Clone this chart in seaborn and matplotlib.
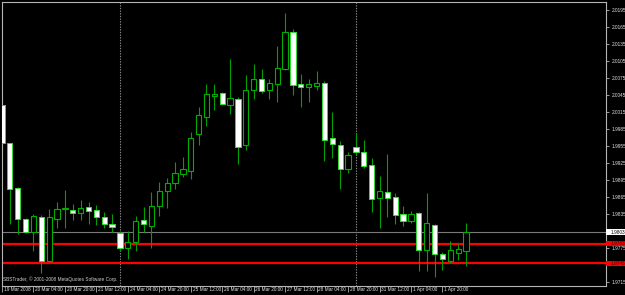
import numpy as np
import matplotlib
matplotlib.use("Agg")
import matplotlib.pyplot as plt
import matplotlib.transforms as mtransforms
from matplotlib.patches import Rectangle
import seaborn as sns

# ---------------- data (4H candles) ----------------
opens = [2.0027, 1.9960, 1.9881, 1.9826, 1.9803, 1.9830, 1.9753, 1.9826, 1.9844, 1.9842,
         1.9836, 1.9847, 1.9842, 1.9830, 1.9818, 1.9801, 1.9775, 1.9786, 1.9824, 1.9814,
         1.9850, 1.9876, 1.9889, 1.9906, 1.9911, 1.9977, 2.0007, 2.0044, 2.0048, 2.0027,
         2.0038, 1.9956, 2.0053, 2.0073, 2.0053, 2.0064, 2.0091, 2.0157, 2.0064, 2.0060,
         2.0061, 2.0067, 1.9969, 1.9957, 1.9914, 1.9954, 1.9944, 1.9921, 1.9863, 1.9873,
         1.9865, 1.9835, 1.9822, 1.9836, 1.9772, 1.9816, 1.9764, 1.9752, 1.9767, 1.9770]
highs = [2.0040, 1.9961, 1.9883, 1.9828, 1.9835, 1.9833, 1.9844, 1.9856, 1.9877, 1.9852,
         1.9860, 1.9856, 1.9851, 1.9839, 1.9835, 1.9805, 1.9805, 1.9832, 1.9848, 1.9874,
         1.9891, 1.9898, 1.9926, 1.9936, 1.9980, 2.0023, 2.0064, 2.0064, 2.0050, 2.0109,
         2.0041, 2.0080, 2.0099, 2.0091, 2.0073, 2.0131, 2.0189, 2.0161, 2.0082, 2.0074,
         2.0088, 2.0070, 2.0015, 1.9964, 1.9945, 1.9978, 1.9966, 1.9933, 1.9902, 1.9941,
         1.9872, 1.9850, 1.9840, 1.9839, 1.9872, 1.9817, 1.9768, 1.9787, 1.9782, 1.9819]
lows = [1.9946, 1.9817, 1.9800, 1.9801, 1.9770, 1.9731, 1.9752, 1.9810, 1.9810, 1.9824,
        1.9824, 1.9817, 1.9816, 1.9810, 1.9803, 1.9770, 1.9755, 1.9770, 1.9804, 1.9775,
        1.9832, 1.9846, 1.9880, 1.9900, 1.9896, 1.9956, 1.9991, 2.0019, 2.0027, 2.0011,
        1.9923, 1.9948, 2.0038, 2.0049, 2.0038, 2.0033, 2.0090, 2.0045, 2.0023, 2.0033,
        2.0054, 1.9929, 1.9933, 1.9879, 1.9907, 1.9939, 1.9916, 1.9839, 1.9811, 1.9830,
        1.9817, 1.9813, 1.9820, 1.9734, 1.9734, 1.9724, 1.9737, 1.9748, 1.9754, 1.9743]
closes = [1.9960, 1.9879, 1.9826, 1.9803, 1.9832, 1.9752, 1.9830, 1.9844, 1.9846, 1.9836,
          1.9845, 1.9840, 1.9829, 1.9817, 1.9812, 1.9775, 1.9786, 1.9823, 1.9817, 1.9850,
          1.9876, 1.9890, 1.9907, 1.9914, 1.9970, 2.0009, 2.0046, 2.0046, 2.0029, 2.0040,
          1.9954, 2.0053, 2.0073, 2.0052, 2.0067, 2.0092, 2.0156, 2.0062, 2.0060, 2.0064,
          2.0067, 1.9966, 1.9959, 1.9914, 1.9940, 1.9944, 1.9920, 1.9861, 1.9876, 1.9864,
          1.9833, 1.9822, 1.9835, 1.9772, 1.9819, 1.9765, 1.9756, 1.9771, 1.9773, 1.9803]

time_labels = ["19 Mar 2008", "20 Mar 04:00", "20 Mar 20:00", "21 Mar 12:00",
               "24 Mar 04:00", "24 Mar 20:00", "25 Mar 12:00", "26 Mar 04:00",
               "26 Mar 20:00", "27 Mar 12:00", "28 Mar 04:00", "28 Mar 20:00",
               "31 Mar 12:00", "1 Apr 04:00", "1 Apr 20:00"]
time_label_bars = [0, 4, 8, 12, 16, 20, 24, 28, 32, 36, 40, 44, 48, 52, 56]
price_ticks = [2.0195, 2.0165, 2.0135, 2.0105, 2.0075, 2.0045, 2.0015, 1.9985, 1.9955,
               1.9925, 1.9895, 1.9865, 1.9835, 1.9805, 1.9775, 1.9745, 1.9715]
week_start_bars = [15, 45]
bid_price = 1.9803
level_prices = [1.9783, 1.9748]
copyright_text = "SBSTrader, \u00a9 2001-2008 MetaQuotes Software Corp."

# ---------------- style ----------------
sns.set_theme(style="dark", rc={"figure.facecolor": "black", "axes.facecolor": "black",
                                "axes.grid": False})
plt.rcParams["font.family"] = ["Liberation Sans", "DejaVu Sans"]

TXT = "#e6e6e6"
FRAME = "#b4b4b4"

fig = plt.figure(figsize=(6.25, 2.95), dpi=100, facecolor="black")

# fit the tiny terminal font: copyright line is ~114 px wide in the reference
probe = fig.text(0, 0, copyright_text, fontsize=4.0)
w = probe.get_window_extent(fig.canvas.get_renderer()).width
probe.remove()
FS = 4.0 * 114.0 / w

ax = fig.add_axes([2 / 625, (295 - 285.5) / 295, 604 / 625, 283.5 / 295])
ax.set_facecolor("black")

o = np.array(opens); h = np.array(highs); l = np.array(lows); c = np.array(closes)
x = np.arange(len(o))
bull = c >= o

# week separators
for b in week_start_bars:
    ax.axvline(b, color="#8a8a8a", lw=0.8, ls=(0, (1.2, 1.2)), zorder=1)

# level lines
ax.axhline(bid_price, color="#7a7a7a", lw=0.8, zorder=1.5)
for lp in level_prices:
    ax.axhline(lp, color="#ff0000", lw=1.6, zorder=1.5)

# wicks
ax.vlines(x, l, h, color="#00a000", lw=0.8, zorder=2)

# bodies
bw = 0.67
body_bottom = np.minimum(o, c)
body_h = np.maximum(np.abs(c - o), 0.00012)
ax.bar(x[bull], body_h[bull], bottom=body_bottom[bull], width=bw,
       facecolor="black", edgecolor="#00b000", linewidth=0.8, zorder=3)
ax.bar(x[~bull], body_h[~bull], bottom=body_bottom[~bull], width=bw,
       facecolor="white", edgecolor="#30e030", linewidth=0.7, zorder=3)

ax.set_xlim(0, 76.8)
ax.set_ylim(1.97089, 2.02091)

for sp in ax.spines.values():
    sp.set_color(FRAME)
    sp.set_linewidth(0.8)

# y axis on the right; labels hidden under the price boxes are left blank
covered = [bid_price] + level_prices
ylabels = ["" if any(abs(p - q) < 0.0006 for q in covered) and p not in (1.9775,) else f"{p:.4f}"
           for p in price_ticks]
ax.yaxis.tick_right()
ax.set_yticks(price_ticks)
ax.set_yticklabels(ylabels)
ax.tick_params(axis="y", which="both", right=True, left=False, direction="out",
               length=2.5, width=0.6, color=FRAME, labelcolor=TXT, labelsize=FS, pad=1.5)

# x axis
ax.set_xticks(time_label_bars)
ax.set_xticklabels(time_labels, ha="left")
ax.tick_params(axis="x", which="both", bottom=True, direction="out", length=4,
               width=0.6, color=FRAME, labelcolor=TXT, labelsize=FS, pad=-3.0)
offset = mtransforms.ScaledTranslation(1.8 / 100, 0, fig.dpi_scale_trans)
for lbl in ax.get_xticklabels():
    lbl.set_transform(lbl.get_transform() + offset)

# price boxes on the right axis
bt = mtransforms.blended_transform_factory(ax.transAxes, ax.transData)
box_h = 5.5 * (2.02091 - 1.97089) / 283.5
for price, fc, tc in [(bid_price, "white", "black")] + [(lp, "#ff0000", "#400000") for lp in level_prices]:
    ax.add_patch(Rectangle((1.0008, price - box_h / 2), 0.04, box_h, transform=bt,
                           facecolor=fc, edgecolor="none", clip_on=False, zorder=10))
    ax.text(1.007, price, f"{price:.4f}", transform=bt, color=tc, fontsize=FS,
            va="center", ha="left", clip_on=False, zorder=11)

# copyright text
ax.text(1.2 / 604, 4.0 / 283.5, copyright_text, transform=ax.transAxes, color="#d0d0d0",
        fontsize=FS, ha="left", va="bottom", zorder=5)

fig.savefig("out.png", dpi=100, facecolor="black")
